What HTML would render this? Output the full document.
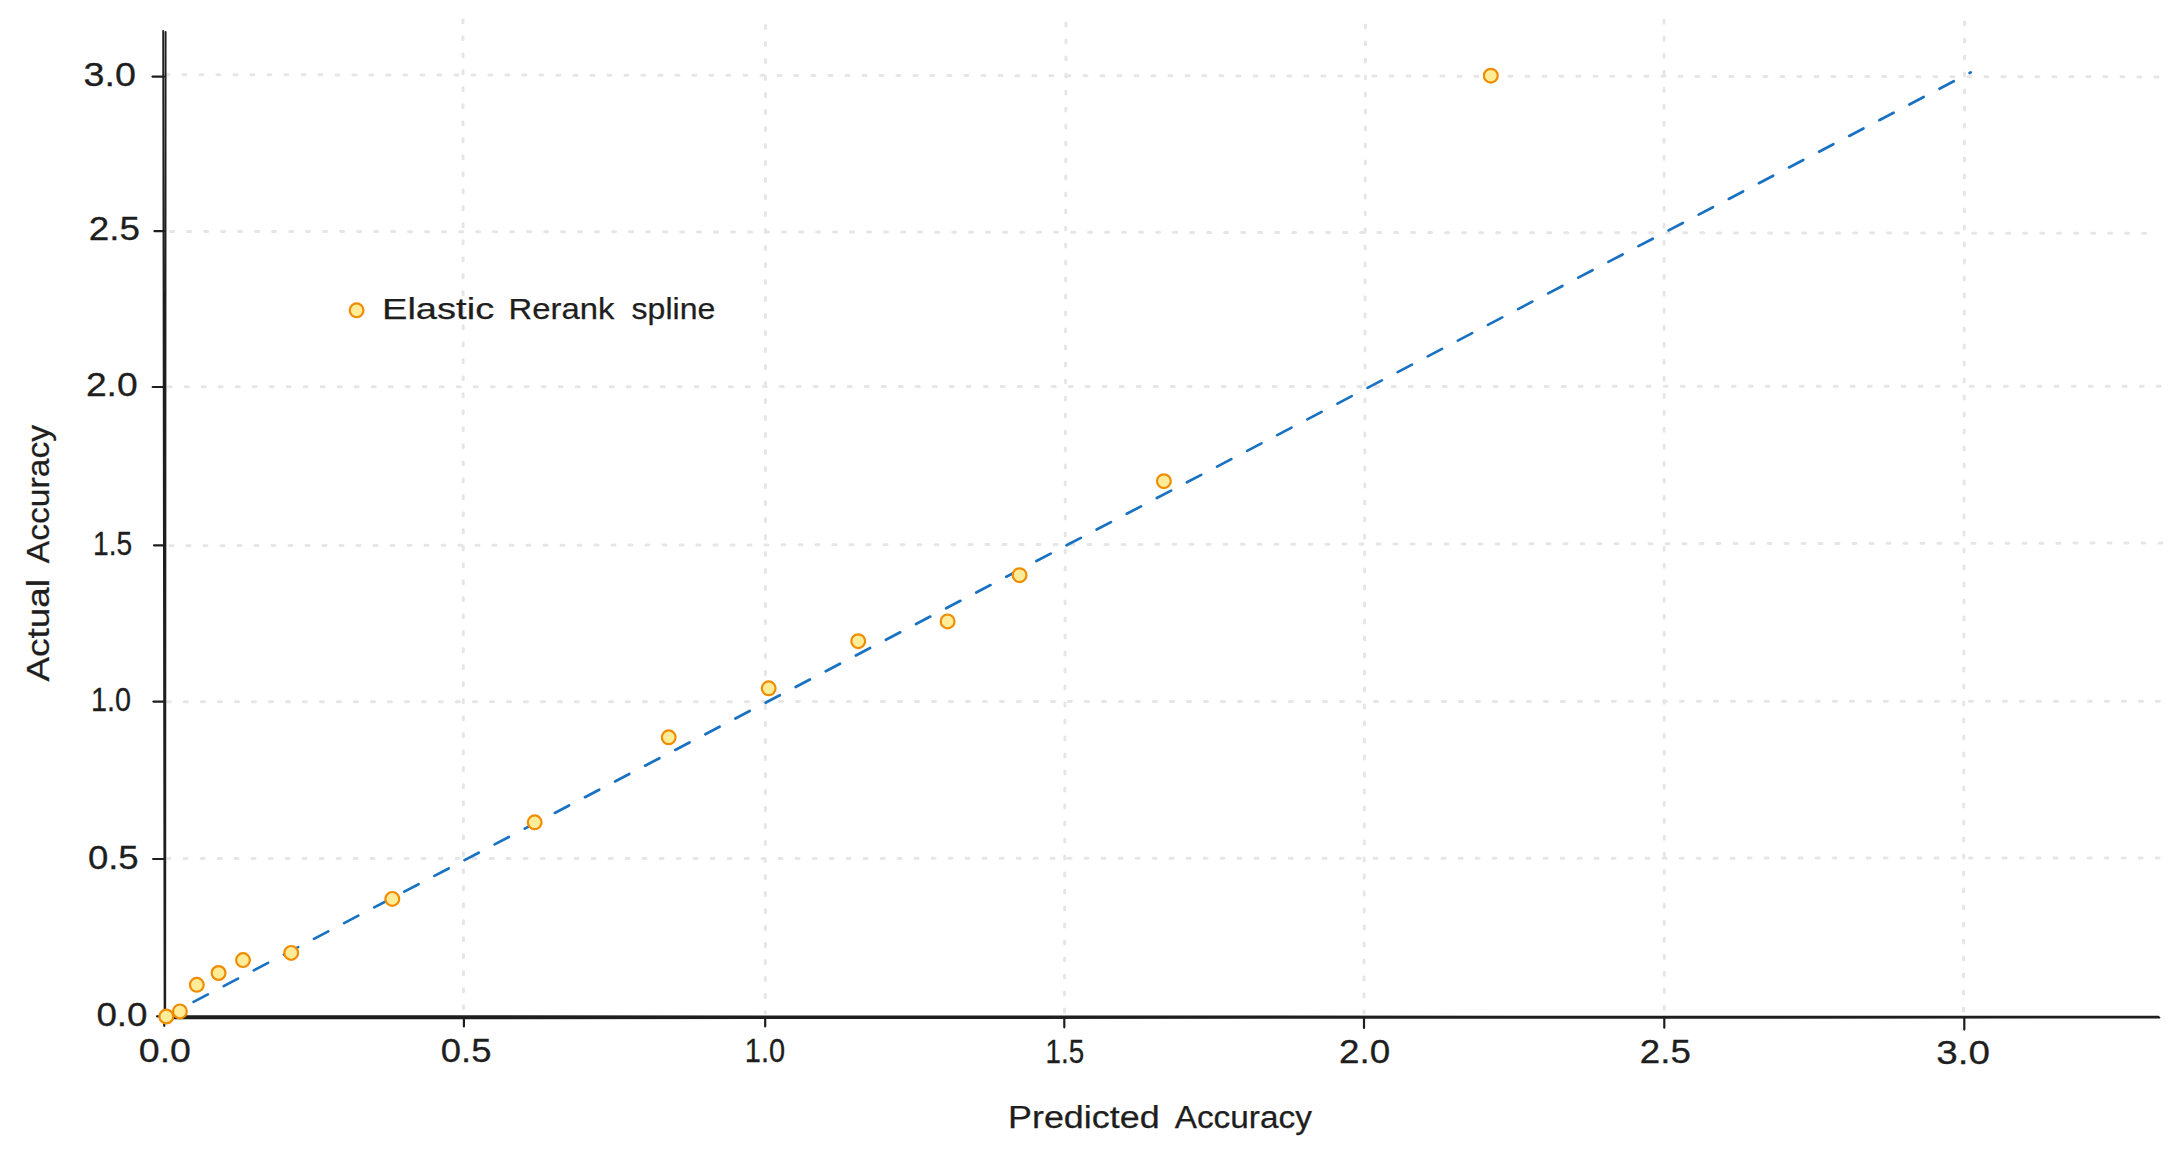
<!DOCTYPE html>
<html><head><meta charset="utf-8"><title>Elastic Rerank spline</title>
<style>html,body{margin:0;padding:0;background:#fff;overflow:hidden}svg{display:block}</style>
</head><body>
<svg width="2181" height="1158" viewBox="0 0 2181 1158"><rect width="2181" height="1158" fill="#ffffff"/><path d="M463.0 19.7L463.5 1013 M765.5 25.4L765.3 1013 M1066.0 23.0L1064.5 1013 M1365.5 25.1L1364.0 1013 M1664.0 20.3L1664.3 1013 M1964.6 22.0L1963.5 1013 M165.9 74.7L2157.9 76.9 M170.6 231.4L2145.6 233.3 M168.2 386.8L2160.2 386.2 M170.0 545.7L2162.0 543.0 M167.4 701.8L2159.4 701.2 M167.1 858.6L2159.1 858.0" stroke="#e6e6e6" stroke-width="3" stroke-dasharray="3 14" stroke-linecap="round" fill="none"/><path d="M163.5 1017.6L1970.7 72.4" stroke="#1971c2" stroke-width="2.7" stroke-dasharray="16.1 17.87" stroke-linecap="round" fill="none"/><path d="M163.2 31L164.6 1017.5 M165.6 32L165.2 1018.5 M164 1016.2L2158.5 1016.8 M166 1018.3L2159.5 1017.6" stroke="#1e1e1e" stroke-width="1.9" stroke-linecap="round" fill="none"/><path d="M152.5 76.6L164 76.6 M154.5 231.2L164 231.2 M152.7 387L164 387 M154 545.3L164 545.3 M153.4 701.6L164 701.6 M153.1 859L164 859 M157.0 1016.3L164 1016.3 M164.2 1017.5L164.2 1025.8 M463.9 1017.5L463.9 1026.5 M765.2 1017.5L765.2 1026.5 M1064.3 1017.5L1064.3 1027.3 M1364 1017.5L1364 1028 M1664.3 1017.5L1664.3 1027.7 M1964.3 1017.5L1964.3 1029.6" stroke="#1e1e1e" stroke-width="2.2" stroke-linecap="round" fill="none"/><circle cx="166.3" cy="1016.5" r="6.9" fill="#ffec99" stroke="#f08c00" stroke-width="2.2"/><circle cx="179.9" cy="1011.4" r="6.9" fill="#ffec99" stroke="#f08c00" stroke-width="2.2"/><circle cx="196.8" cy="984.8" r="6.9" fill="#ffec99" stroke="#f08c00" stroke-width="2.2"/><circle cx="218.6" cy="973.0" r="6.9" fill="#ffec99" stroke="#f08c00" stroke-width="2.2"/><circle cx="243.0" cy="960.1" r="6.9" fill="#ffec99" stroke="#f08c00" stroke-width="2.2"/><circle cx="291.2" cy="952.9" r="6.9" fill="#ffec99" stroke="#f08c00" stroke-width="2.2"/><circle cx="392.3" cy="898.9" r="6.9" fill="#ffec99" stroke="#f08c00" stroke-width="2.2"/><circle cx="534.7" cy="822.3" r="6.9" fill="#ffec99" stroke="#f08c00" stroke-width="2.2"/><circle cx="668.7" cy="737.3" r="6.9" fill="#ffec99" stroke="#f08c00" stroke-width="2.2"/><circle cx="768.7" cy="688.3" r="6.9" fill="#ffec99" stroke="#f08c00" stroke-width="2.2"/><circle cx="858.2" cy="641.2" r="6.9" fill="#ffec99" stroke="#f08c00" stroke-width="2.2"/><circle cx="947.6" cy="621.4" r="6.9" fill="#ffec99" stroke="#f08c00" stroke-width="2.2"/><circle cx="1019.6" cy="575.2" r="6.9" fill="#ffec99" stroke="#f08c00" stroke-width="2.2"/><circle cx="1163.9" cy="481.2" r="6.9" fill="#ffec99" stroke="#f08c00" stroke-width="2.2"/><circle cx="1490.8" cy="75.7" r="6.9" fill="#ffec99" stroke="#f08c00" stroke-width="2.2"/><circle cx="356.6" cy="310.3" r="6.9" fill="#ffec99" stroke="#f08c00" stroke-width="2.2"/><g font-family="'Liberation Sans', sans-serif" fill="#1e1e1e" stroke="#1e1e1e"><text x="83.50" y="85.6" font-size="34" stroke-width="0.3" textLength="52.40" lengthAdjust="spacingAndGlyphs">3.0</text><text x="88.80" y="240.4" font-size="34" stroke-width="0.3" textLength="51.20" lengthAdjust="spacingAndGlyphs">2.5</text><text x="85.90" y="396" font-size="34" stroke-width="0.3" textLength="51.80" lengthAdjust="spacingAndGlyphs">2.0</text><text x="93.00" y="555.4" font-size="34" stroke-width="0.3" textLength="39.20" lengthAdjust="spacingAndGlyphs">1.5</text><text x="91.00" y="710.8" font-size="34" stroke-width="0.3" textLength="40.00" lengthAdjust="spacingAndGlyphs">1.0</text><text x="87.90" y="869.3" font-size="34" stroke-width="0.3" textLength="50.80" lengthAdjust="spacingAndGlyphs">0.5</text><text x="96.40" y="1025.6" font-size="34" stroke-width="0.3" textLength="51.20" lengthAdjust="spacingAndGlyphs">0.0</text><text x="138.80" y="1062.3" font-size="34" stroke-width="0.3" textLength="52.20" lengthAdjust="spacingAndGlyphs">0.0</text><text x="440.80" y="1062.3" font-size="34" stroke-width="0.3" textLength="50.70" lengthAdjust="spacingAndGlyphs">0.5</text><text x="744.80" y="1061.9" font-size="34" stroke-width="0.3" textLength="40.30" lengthAdjust="spacingAndGlyphs">1.0</text><text x="1045.60" y="1063" font-size="34" stroke-width="0.3" textLength="38.70" lengthAdjust="spacingAndGlyphs">1.5</text><text x="1339.00" y="1062.7" font-size="34" stroke-width="0.3" textLength="51.20" lengthAdjust="spacingAndGlyphs">2.0</text><text x="1639.80" y="1063" font-size="34" stroke-width="0.3" textLength="51.00" lengthAdjust="spacingAndGlyphs">2.5</text><text x="1936.30" y="1063.8" font-size="34" stroke-width="0.3" textLength="53.70" lengthAdjust="spacingAndGlyphs">3.0</text><text y="319.4" font-size="30" stroke-width="0.25"><tspan x="382.00" textLength="112.20" lengthAdjust="spacingAndGlyphs">Elastic</tspan> <tspan x="508.60" textLength="105.70" lengthAdjust="spacingAndGlyphs">Rerank</tspan> <tspan x="631.60" textLength="83.70" lengthAdjust="spacingAndGlyphs">spline</tspan></text><text y="1127.9" font-size="31" stroke-width="0.25"><tspan x="1008.00" textLength="151.60" lengthAdjust="spacingAndGlyphs">Predicted</tspan> <tspan x="1174.70" textLength="137.20" lengthAdjust="spacingAndGlyphs">Accuracy</tspan></text><text transform="rotate(-90)" y="48.7" font-size="30.5" stroke-width="0.25"><tspan x="-681.60" textLength="102.60" lengthAdjust="spacingAndGlyphs">Actual</tspan> <tspan x="-563.20" textLength="138.20" lengthAdjust="spacingAndGlyphs">Accuracy</tspan></text></g></svg>
</body></html>
